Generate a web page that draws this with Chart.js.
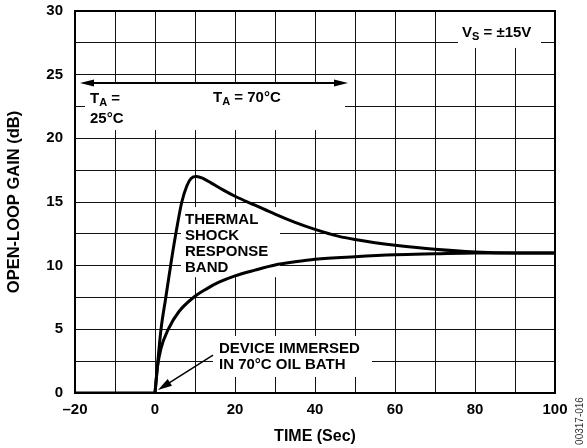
<!DOCTYPE html>
<html>
<head>
<meta charset="utf-8">
<script src="https://cdn.jsdelivr.net/npm/chart.js@4/dist/chart.umd.min.js"></script>
<style>
  html, body { margin: 0; padding: 0; background: #fff; }
  #wrap { width: 587px; height: 448px; position: relative; }
</style>
</head>
<body>
<div id="wrap"><canvas id="c" width="587" height="448"></canvas></div>
<script>
// ---- data ----
const baseTime = [-20, 0];
const baseGain = [0, 0];

const upperTime = [0, 1.5, 2.7, 3.9, 5.2, 6.7, 8, 9, 10.4, 12, 14, 17, 20, 25, 30, 35, 40, 46, 50, 55, 60, 70, 80, 90, 100];
const upperGain = [0, 5, 7.5, 10, 12.5, 15, 16.3, 16.85, 17.0, 16.85, 16.5, 15.95, 15.45, 14.75, 14.05, 13.4, 12.85, 12.3, 12.05, 11.8, 11.6, 11.28, 11.07, 11, 11];

const lowerTime = [0, 0.6, 1.5, 3.3, 6, 9.6, 13, 16, 20, 25, 30, 35, 40, 50, 60, 70, 80, 90, 100];
const lowerGain = [0, 2, 3.5, 5, 6.4, 7.5, 8.2, 8.7, 9.2, 9.65, 10.05, 10.3, 10.5, 10.7, 10.85, 10.93, 11, 11, 11];

const xTickLabels = { '-20': '\u201320', '0': '0', '20': '20', '40': '40', '60': '60', '80': '80', '100': '100' };
const yTickLabels = { '0': '0', '5': '5', '10': '10', '15': '15', '20': '20', '25': '25', '30': '30' };

const xTitle = 'TIME (Sec)';
const yTitle = 'OPEN-LOOP GAIN (dB)';
const figId = '00317-016';

// ---- helpers ----
const toPts = (xs, ys) => xs.map((x, i) => ({ x: x, y: ys[i] }));
const FONT = '"Liberation Sans", Arial, Helvetica, sans-serif';

// annotation layout (data units)
const notes = {
  boxes: [
    { x0: -17.5, x1: 47.5, y0: 20.65, y1: 24.27 },
    { x0: 75.75, x1: 96.5, y0: 27.1, y1: 30 },
    { x0: 6.5, x1: 31.25, y0: 9.1, y1: 14.6 },
    { x0: 14.5, x1: 54.25, y0: 1.26, y1: 4.48 }
  ]
};

const annot = {
  id: 'annot',
  beforeDatasetsDraw(chart) {
    const ctx = chart.ctx, xs = chart.scales.x, ys = chart.scales.y;
    ctx.save();
    ctx.fillStyle = '#fff';
    notes.boxes.forEach(b => {
      const l = xs.getPixelForValue(b.x0), r = xs.getPixelForValue(b.x1);
      const t = ys.getPixelForValue(b.y1), btm = ys.getPixelForValue(b.y0);
      ctx.fillRect(l, t, r - l, btm - t);
    });
    ctx.restore();
  },
  afterDatasetsDraw(chart) {
    const ctx = chart.ctx, xs = chart.scales.x, ys = chart.scales.y;
    const X = v => xs.getPixelForValue(v), Y = v => ys.getPixelForValue(v);
    const a = chart.chartArea;
    ctx.save();
    // frame
    ctx.strokeStyle = '#000';
    ctx.lineWidth = 2;
    ctx.strokeRect(a.left, a.top, a.right - a.left, a.bottom - a.top);

    ctx.fillStyle = '#000';
    ctx.textBaseline = 'middle';
    ctx.textAlign = 'left';
    const big = 'bold 15px ' + FONT, small = 'bold 11px ' + FONT;
    function rich(parts, x, y) {
      let cx = x;
      parts.forEach(p => {
        ctx.font = p.sub ? small : big;
        ctx.fillText(p.t, cx, p.sub ? y + 4 : y);
        cx += ctx.measureText(p.t).width;
      });
    }
    function arrowHead(x1, y1, x2, y2, len, half) {
      const ang = Math.atan2(y2 - y1, x2 - x1);
      ctx.beginPath();
      ctx.moveTo(x2, y2);
      ctx.lineTo(x2 - len * Math.cos(ang) + half * Math.sin(ang), y2 - len * Math.sin(ang) - half * Math.cos(ang));
      ctx.lineTo(x2 - len * Math.cos(ang) - half * Math.sin(ang), y2 - len * Math.sin(ang) + half * Math.cos(ang));
      ctx.closePath();
      ctx.fill();
    }
    // double arrow T_A
    const ay = Y(24.35), ax0 = X(-18.75), ax1 = X(48.25);
    ctx.lineWidth = 2;
    ctx.beginPath(); ctx.moveTo(ax0 + 8, ay); ctx.lineTo(ax1 - 8, ay); ctx.stroke();
    arrowHead(ax1, ay, ax0, ay, 14, 3.5);
    arrowHead(ax0, ay, ax1, ay, 14, 3.5);

    rich([{ t: 'T' }, { t: 'A', sub: true }, { t: ' = 70\u00B0C' }], X(14.5), Y(23.17));
    rich([{ t: 'T' }, { t: 'A', sub: true }, { t: ' =' }], X(-16.25), Y(23.1));
    rich([{ t: '25\u00B0C' }], X(-16.25), Y(21.52));
    rich([{ t: 'V' }, { t: 'S', sub: true }, { t: ' = \u00B115V' }], X(76.75), Y(28.27));

    ['THERMAL', 'SHOCK', 'RESPONSE', 'BAND'].forEach((s, i) => {
      rich([{ t: s }], X(7.5), Y([13.59, 12.33, 11.07, 9.82][i]));
    });
    rich([{ t: 'DEVICE IMMERSED' }], X(16), Y(3.46));
    rich([{ t: 'IN 70\u00B0C OIL BATH' }], X(16), Y(2.2));

    // arrow to origin
    const sx = X(14.5), sy = Y(2.98), tx = X(0.75), ty = Y(0.24);
    const d = Math.hypot(sx - tx, sy - ty);
    ctx.lineWidth = 1.5;
    ctx.beginPath(); ctx.moveTo(sx, sy); ctx.lineTo(tx + 10 * (sx - tx) / d, ty + 10 * (sy - ty) / d); ctx.stroke();
    arrowHead(sx, sy, tx, ty, 14, 4);

    // figure id
    ctx.translate(580, 421);
    ctx.rotate(-Math.PI / 2);
    ctx.textAlign = 'center';
    ctx.font = '10px ' + FONT;
    ctx.fillStyle = '#333';
    ctx.fillText(figId, 0, 0);
    ctx.restore();
  }
};

new Chart(document.getElementById('c'), {
  type: 'line',
  data: {
    datasets: [
      { data: toPts(baseTime, baseGain), borderColor: '#000', borderWidth: 3, pointRadius: 0, tension: 0 },
      { data: toPts(upperTime, upperGain), borderColor: '#000', borderWidth: 3, pointRadius: 0, cubicInterpolationMode: 'monotone' },
      { data: toPts(lowerTime, lowerGain), borderColor: '#000', borderWidth: 3, pointRadius: 0, cubicInterpolationMode: 'monotone' }
    ]
  },
  options: {
    responsive: false,
    animation: false,
    devicePixelRatio: 1,
    layout: { padding: { left: 0, right: 32, top: 11, bottom: 0 } },
    plugins: { legend: { display: false }, tooltip: { enabled: false } },
    scales: {
      x: {
        type: 'linear', min: -20, max: 100,
        afterFit: s => { s.height = 55; s.paddingLeft = 0; s.paddingRight = 0; },
        grid: { color: '#111', lineWidth: 1, drawTicks: false },
        border: { display: true, color: '#000', width: 2 },
        ticks: {
          stepSize: 10, padding: 8, maxRotation: 0, autoSkip: false, color: '#000',
          font: { family: FONT, size: 15, weight: 'bold' },
          callback: v => (xTickLabels[String(v)] !== undefined ? xTickLabels[String(v)] : '')
        },
        title: { display: true, text: xTitle, color: '#000', padding: { top: 0, bottom: 2 },
          font: { family: FONT, size: 16, weight: 'bold' } }
      },
      y: {
        type: 'linear', min: 0, max: 30,
        afterFit: s => { s.width = 75; s.paddingTop = 0; s.paddingBottom = 0; },
        grid: { color: '#111', lineWidth: 1, drawTicks: false },
        border: { display: true, color: '#000', width: 2 },
        ticks: {
          stepSize: 2.5, padding: 12, autoSkip: false, color: '#000',
          font: { family: FONT, size: 15, weight: 'bold' },
          callback: v => (yTickLabels[String(v)] !== undefined ? yTickLabels[String(v)] : '')
        },
        title: { display: true, text: yTitle, color: '#000', padding: { top: 5, bottom: 0 },
          font: { family: FONT, size: 16.5, weight: 'bold' } }
      }
    }
  },
  plugins: [annot]
});
</script>
</body>
</html>
